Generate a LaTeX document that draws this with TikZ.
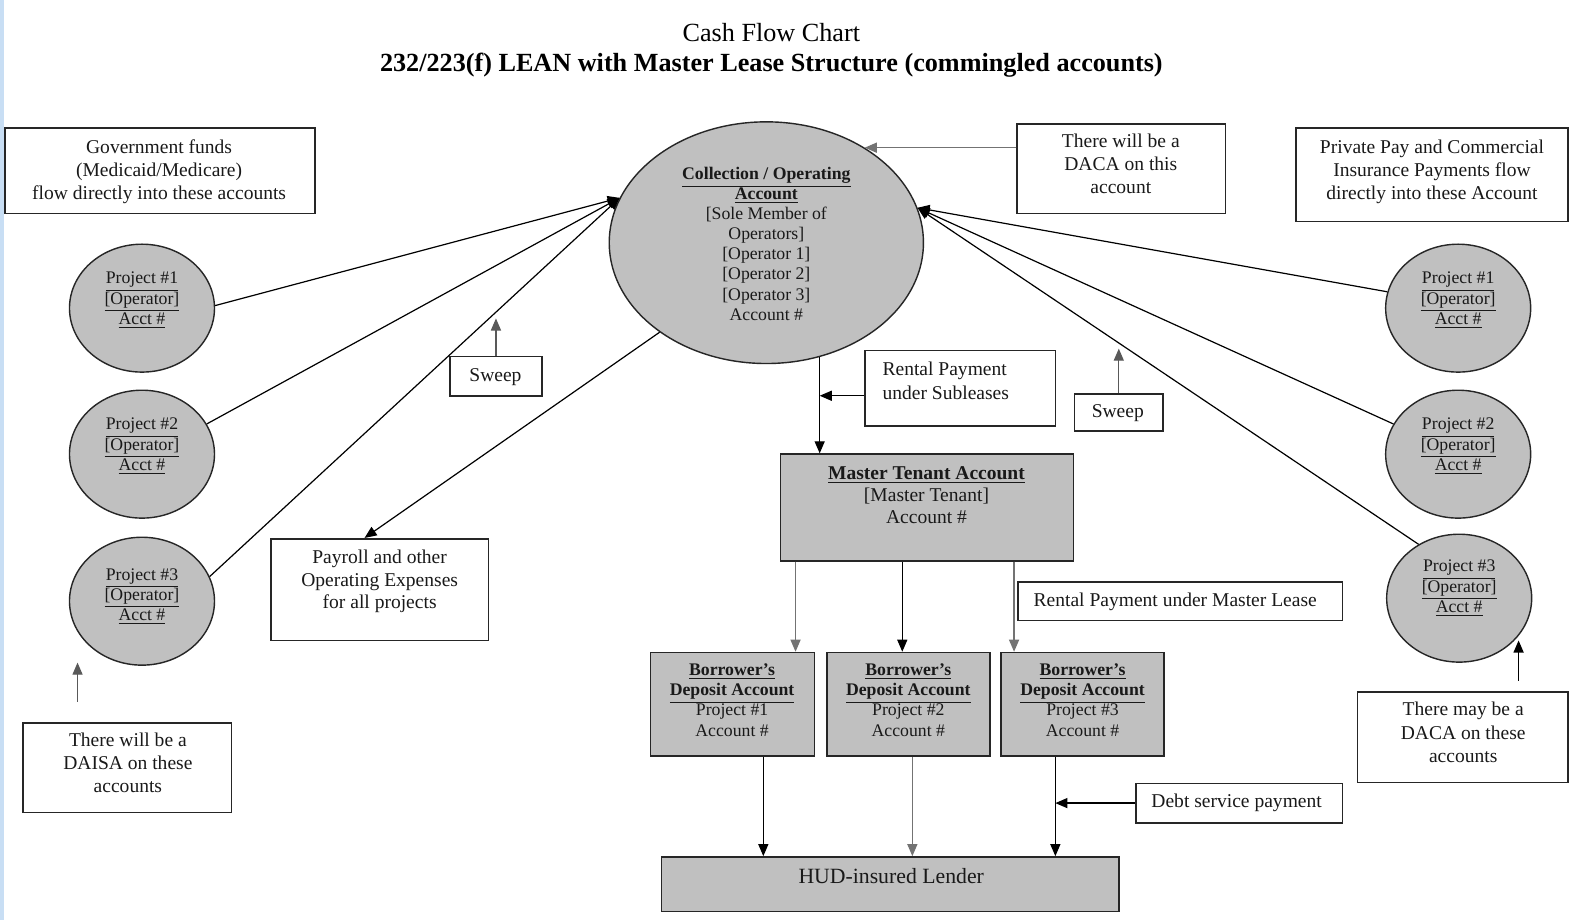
\documentclass[tikz,border=0pt]{standalone}
\usepackage{fontspec}
\setmainfont{Liberation Serif}
\usetikzlibrary{arrows.meta,shapes.geometric,fit}
\definecolor{strip}{RGB}{200,222,244}
\definecolor{acctgray}{RGB}{192,192,192}
\begin{document}
\begin{tikzpicture}[x=0.5pt,y=-0.5pt,
  box/.style={draw=black!85,line width=0.8pt,fill=white,inner sep=0pt},
  gbox/.style={box,fill=acctgray},
  acct/.style={ellipse,draw=black!85,line width=0.7pt,fill=acctgray,inner sep=0pt},
  body/.style={align=center,inner sep=0pt,anchor=base,font=\fontsize{9.7}{11.5}\selectfont,text=black!90},
  small/.style={body,font=\fontsize{8.8}{10}\selectfont},
  flow/.style={line width=0.6pt,-{Triangle[length=6pt,width=5pt]}},
  gflow/.style={flow,draw=black!55,fill=black!55},
]
\fill[white] (0,0) rectangle (1568,914);
\useasboundingbox (0,0) rectangle (1568,914);
\fill[strip] (0,0) rectangle (4,914);

% titles
\node[anchor=base,inner sep=0pt,font=\fontsize{13}{15}\selectfont] (t1) at (766,41) {Cash Flow Chart};
\node[anchor=base,inner sep=0pt,font=\fontsize{13}{15}\selectfont\bfseries] (t2) at (766,71) {232/223(f) LEAN with Master Lease Structure (commingled accounts)};

% helper x positions
\coordinate (x758) at (758,0);
\coordinate (x790) at (790,0);
\coordinate (x896) at (896,0);
\coordinate (x906) at (906,0);
\coordinate (x1007) at (1007,0);
\coordinate (x1048) at (1048,0);

% central collection account (text nodes are anchored at the baseline of their last line)
\node[acct,minimum width=156pt,minimum height=120pt] (coll) at (761,241) {};
\node[small] (collt) at (761,318) {\textbf{\underline{Collection / Operating}}\\ \textbf{\underline{Account}}\\ {[}Sole Member of\\ Operators{]}\\ {[}Operator 1{]}\\ {[}Operator 2{]}\\ {[}Operator 3{]}\\ Account \#};

% project circles
\foreach \n/\x/\y/\ty/\lbl in {L1/141/306/322/1, L2/141/451/467/2, L3/141/597/616/3, R1/1448/306/322/1, R2/1448/451/467/2, R3/1449/594/608/3}{
  \node[acct,minimum width=72pt,minimum height=63.5pt] (\n) at (\x,\y) {};
  \node[small] (\n t) at (\x,\ty) {\underline{Project \#\lbl}\\ \underline{{[}Operator{]}}\\ \underline{Acct \#}};
}

% note boxes
\node[box,fit={(5,127)(313,212)}] (gov) {};
\node[body] (govt) at (158,198) {Government funds\\ (Medicaid/Medicare)\\ flow directly into these accounts};

\node[box,fit={(1010,123)(1217,212)}] (dacatop) {};
\node[body] (dacatopt) at (1113,192) {There will be a\\ DACA on this\\ account};

\node[box,fit={(1287,127)(1557,220)}] (priv) {};
\node[body] (privt) at (1422,198) {Private Pay and Commercial\\ Insurance Payments flow\\ directly into these Account};

\node[box,fit={(447,354)(538,393)}] (sweepL) {};
\node[body] (sweepLt) at (492,379) {Sweep};

\node[box,fit={(1067,391)(1155,428)}] (sweepR) {};
\node[body] (sweepRt) at (1110,415) {Sweep};

\node[box,fit={(269,535)(485,636)}] (pay) {};
\node[body,font=\fontsize{9.7}{11}\selectfont] (payt) at (377,604) {Payroll and other\\ Operating Expenses\\ for all projects};

\node[box,fit={(859,348)(1048,423)}] (sub) {};
\node[body,align=left,anchor=base west,font=\fontsize{9.7}{12}\selectfont] (subt) at (876,397) {Rental Payment\\ under Subleases};

\node[box,fit={(1011,578)(1333,616)}] (rml) {};
\node[body] (rmlt) at (1167,602) {Rental Payment under Master Lease};

\node[box,fit={(1128,778)(1333,817)}] (debt) {};
\node[body] (debtt) at (1228,802) {Debt service payment};

\node[box,fit={(23,718)(230,807)}] (daisa) {};
\node[body] (daisat) at (127,787) {There will be a\\ DAISA on these\\ accounts};

\node[box,fit={(1348,687)(1557,777)}] (dacaR) {};
\node[body] (dacaRt) at (1453,757) {There may be a\\ DACA on these\\ accounts};

% account boxes
\node[gbox,fit={(775,451)(1066,557)}] (mt) {};
\node[body,font=\fontsize{9.7}{11}\selectfont] (mtt) at (920,520) {\textbf{\underline{Master Tenant Account}}\\ {[}Master Tenant{]}\\ Account \#};

\node[gbox,fit={(646,648)(809,751)}] (b1) {};
\node[small] (b1t) at (727,731) {\textbf{\underline{Borrower’s}}\\ \textbf{\underline{Deposit Account}}\\ Project \#1\\ Account \#};
\node[gbox,fit={(821,648)(983,751)}] (b2) {};
\node[small] (b2t) at (902,731) {\textbf{\underline{Borrower’s}}\\ \textbf{\underline{Deposit Account}}\\ Project \#2\\ Account \#};
\node[gbox,fit={(994,648)(1156,751)}] (b3) {};
\node[small] (b3t) at (1075,731) {\textbf{\underline{Borrower’s}}\\ \textbf{\underline{Deposit Account}}\\ Project \#3\\ Account \#};

\node[gbox,fit={(657,851)(1111,905)}] (hud) {};
\node[body,font=\fontsize{10.8}{12}\selectfont] (hudt) at (885,877) {HUD-insured Lender};

% flows into the collection account
\draw[flow] (L1.2) -- (coll.163);
\draw[flow] (L2.25) -- (coll.163);
\draw[flow] (L3.20) -- (coll.163);
\draw[flow] (R1.167) -- (coll.13);
\draw[flow] (R2.155) -- (coll.13);
\draw[flow] (R3.127) -- (coll.13);
\draw[gflow] (dacatop.west |- coll.44) -- (coll.44);
\draw[flow] (coll.220) -- ([xshift=-7.5pt]pay.north);

% sweeps and notes
\draw[gflow,draw=black!65,fill=black!65] (sweepL.north) -- ++(0,-37);
\draw[gflow,draw=black!65,fill=black!65] (sweepR.north) -- ++(0,-44);
\coordinate (daisaA) at (77,697);
\coordinate (daisaB) at (77,658);
\draw[gflow,draw=black!65,fill=black!65] (daisaA) -- (daisaB);
\coordinate (dacaA) at (1508,676);
\coordinate (dacaB) at (1508,636);
\draw[flow] (dacaA) -- (dacaB);

% collection -> master tenant
\draw[flow] (coll.295.6) -- (coll.295.6 |- mt.north);
\draw[flow] ([yshift=-3.75pt]sub.west) -- ([yshift=-3.75pt]sub.west -| coll.295.6);

% master tenant -> borrower accounts
\draw[gflow] (mt.south -| x790) -- (b1.north -| x790);
\draw[flow] (mt.south -| x896) -- (b2.north -| x896);
\draw[gflow] (mt.south -| x1007) -- (b3.north -| x1007);

% borrower accounts -> lender
\draw[flow] (b1.south -| x758) -- (hud.north -| x758);
\draw[gflow] (b2.south -| x906) -- (hud.north -| x906);
\draw[flow] (b3.south -| x1048) -- (hud.north -| x1048);
\draw[flow] (debt.west) -- (debt.west -| x1048);
\end{tikzpicture}
\end{document}
